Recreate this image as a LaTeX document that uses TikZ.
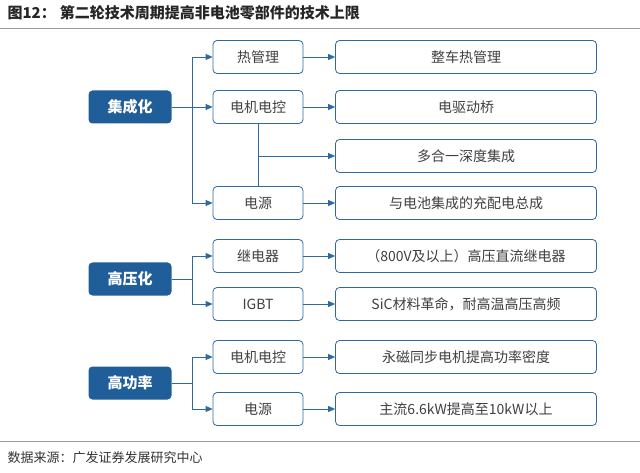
\documentclass[tikz,border=0pt]{standalone}
\usepackage{fontspec}
\setmainfont{Noto Sans CJK SC}
\usetikzlibrary{arrows.meta,positioning}
\definecolor{darkblue}{HTML}{1F5E99}
\definecolor{lineblue}{HTML}{2E69A0}

\begin{document}
\begin{tikzpicture}[x=1pt,y=-1pt,
    topicnode/.style = {rectangle, rounded corners=4pt, fill=darkblue, text=white,
                        font=\bfseries\fontsize{15}{17}\selectfont, minimum width=83pt, minimum height=33pt},
    itemnode/.style  = {rectangle, rounded corners=4pt, draw=lineblue, thick, fill=white,
                        text=black!75, font=\fontsize{14}{16}\selectfont, minimum width=90pt, minimum height=33pt},
    resnode/.style   = {rectangle, rounded corners=4pt, draw=lineblue, thick, fill=white,
                        text=black!75, font=\fontsize{14}{16}\selectfont, minimum width=261pt, minimum height=33pt},
    arr/.style       = {-{Triangle[length=7pt,width=6pt]}, thick, lineblue},
]
    \useasboundingbox (0,0) rectangle (640,473);
    %Title
    \node[anchor=west, font=\bfseries\fontsize{15}{17}\selectfont, text=black!85] (title) at (4,13)
        {图12：\hspace{4pt}第二轮技术周期提高非电池零部件的技术上限};
    \draw[black!40] (0,28) -- (640,28);

    %Topics
    \node[topicnode] (jch) at (130,107) {集成化};
    \node[topicnode] (gyh) at (130,279) {高压化};
    \node[topicnode] (ggl) at (130,383) {高功率};

    %Items
    \node[itemnode] (rgl)  at (258,57)  {热管理};
    \node[itemnode] (djdk) at (258,107) {电机电控};
    \node[itemnode] (dy)   at (258,203) {电源};
    \node[itemnode] (jdq)  at (258,256) {继电器};
    \node[itemnode] (igbt) at (258,304) {IGBT};
    \node[itemnode] (djdk2) at (258,357) {电机电控};
    \node[itemnode] (dy2)  at (258,409) {电源};

    %Results
    \node[resnode] (r1) at (466,57)  {整车热管理};
    \node[resnode] (r2) at (466,107) {电驱动桥};
    \node[resnode] (r3) at (466,156) {多合一深度集成};
    \node[resnode] (r4) at (466,203) {与电池集成的充配电总成};
    \node[resnode] (r5) at (466,256) {（800V及以上）高压直流继电器};
    \node[resnode] (r6) at (466,304) {SiC材料革命，耐高温高压高频};
    \node[resnode] (r7) at (466,357) {永磁同步电机提高功率密度};
    \node[resnode] (r8) at (466,409) {主流6.6kW提高至10kW以上};

    %Lines
    \draw[thick, lineblue] (jch.east) -- (192,107);
    \draw[arr] (192,57) -- (rgl.west);
    \draw[arr] (192,57) -- (192,203) -- (dy.west);
    \draw[arr] (192,107) -- (djdk.west);
    \draw[thick, lineblue] (gyh.east) -- (192,279);
    \draw[arr] (192,279) |- (jdq.west);
    \draw[arr] (192,279) |- (igbt.west);
    \draw[thick, lineblue] (ggl.east) -- (192,383);
    \draw[arr] (192,383) |- (djdk2.west);
    \draw[arr] (192,383) |- (dy2.west);
    \draw[thick, lineblue] (djdk.south) -- (dy.north);
    \draw[arr] (djdk.south |- r3.west) -- (r3.west);
    \foreach \a/\b in {rgl/r1, djdk/r2, dy/r4, jdq/r5, igbt/r6, djdk2/r7, dy2/r8}
        \draw[arr] (\a.east) -- (\b.west);

    %Source
    \draw[black!40] (0,441) -- (640,441);
    \node[anchor=west, font=\fontsize{13}{15}\selectfont, text=black!80] (src) at (4,458) {数据来源：广发证券发展研究中心};
\end{tikzpicture}
\end{document}
